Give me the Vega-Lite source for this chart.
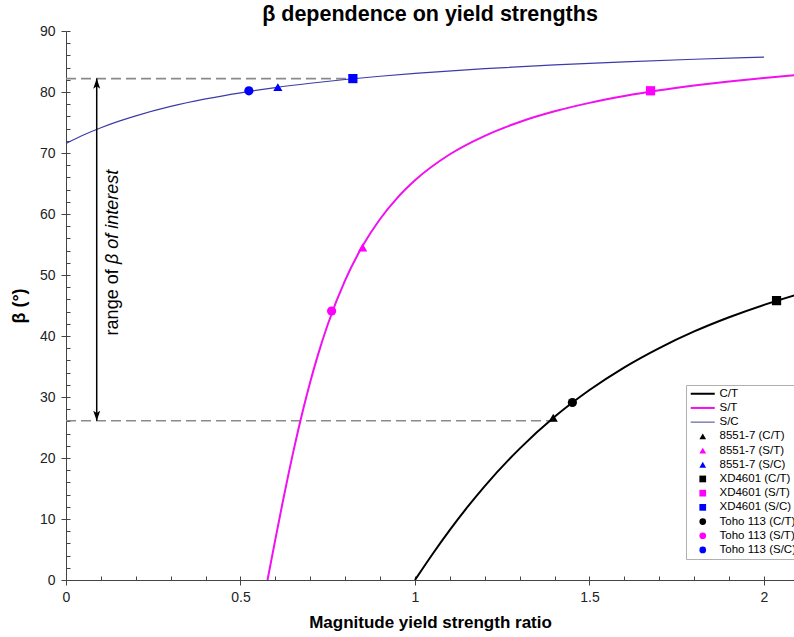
{
  "$schema": "https://vega.github.io/schema/vega-lite/v6.json",
  "autosize": "none",
  "width": 728,
  "height": 549,
  "padding": {"left": 66, "top": 31, "right": 0, "bottom": 57},
  "background": "white",
  "title": {"text": "β dependence on yield strengths", "fontSize": 21.5, "fontWeight": "bold", "font": "Liberation Sans", "color": "#000", "anchor": "middle", "offset": -1},
  "config": {
    "view": {"stroke": null},
    "axis": {"grid": false, "labelFont": "Liberation Sans", "titleFont": "Liberation Sans", "domainColor": "#444", "tickColor": "#444", "labelColor": "#222", "titleColor": "#000", "labelFontSize": 14},
    "legend": {"labelFont": "Liberation Sans"}
  },
  "datasets": {
    "sc": [
      {"x": 0, "y": 71.57}, {"x": 0.05, "y": 72.95}, {"x": 0.1, "y": 74.14}, {"x": 0.15, "y": 75.18}, {"x": 0.2, "y": 76.09}, {"x": 0.3, "y": 77.63}, {"x": 0.4, "y": 78.86}, {"x": 0.5, "y": 79.87}, {"x": 0.6, "y": 80.72}, {"x": 0.7, "y": 81.43}, {"x": 0.8, "y": 82.05}, {"x": 0.9, "y": 82.58}, {"x": 1.0, "y": 83.04}, {"x": 1.2, "y": 83.82}, {"x": 1.4, "y": 84.44}, {"x": 1.6, "y": 84.95}, {"x": 1.8, "y": 85.37}, {"x": 2.0, "y": 85.73}
    ],
    "st": [
      {"x": 0.5774, "y": 0}, {"x": 0.6, "y": 6.71}, {"x": 0.62, "y": 12.49}, {"x": 0.65, "y": 20.68}, {"x": 0.68, "y": 28.07}, {"x": 0.7, "y": 32.51}, {"x": 0.72, "y": 36.54}, {"x": 0.75, "y": 41.89}, {"x": 0.8, "y": 49.16}, {"x": 0.85, "y": 54.78}, {"x": 0.9, "y": 59.18}, {"x": 0.95, "y": 62.69}, {"x": 1.0, "y": 65.52}, {"x": 1.1, "y": 69.79}, {"x": 1.2, "y": 72.82}, {"x": 1.3, "y": 75.09}, {"x": 1.4, "y": 76.83}, {"x": 1.5, "y": 78.22}, {"x": 1.6, "y": 79.34}, {"x": 1.7, "y": 80.27}, {"x": 1.8, "y": 81.05}, {"x": 1.9, "y": 81.72}, {"x": 2.0, "y": 82.3}, {"x": 2.09, "y": 82.75}
    ],
    "ct": [
      {"x": 1, "y": 0}, {"x": 1.05, "y": 4.23}, {"x": 1.1, "y": 8.22}, {"x": 1.15, "y": 11.94}, {"x": 1.2, "y": 15.4}, {"x": 1.3, "y": 21.54}, {"x": 1.4, "y": 26.75}, {"x": 1.5, "y": 31.14}, {"x": 1.6, "y": 34.87}, {"x": 1.7, "y": 38.03}, {"x": 1.8, "y": 40.75}, {"x": 1.9, "y": 43.08}, {"x": 2.0, "y": 45.11}, {"x": 2.09, "y": 46.72}
    ],
    "dash": [
      {"g": "top", "x": 0, "y": 82.2}, {"g": "top", "x": 0.822, "y": 82.2},
      {"g": "bot", "x": 0, "y": 26.1}, {"g": "bot", "x": 1.396, "y": 26.1}
    ],
    "pts": [
      {"label": "8551-7 (C/T)", "x": 1.396, "y": 26.6},
      {"label": "8551-7 (S/T)", "x": 0.85, "y": 54.5},
      {"label": "8551-7 (S/C)", "x": 0.607, "y": 80.8},
      {"label": "XD4601 (C/T)", "x": 2.036, "y": 45.8},
      {"label": "XD4601 (S/T)", "x": 1.675, "y": 80.2},
      {"label": "XD4601 (S/C)", "x": 0.822, "y": 82.2},
      {"label": "Toho 113 (C/T)", "x": 1.451, "y": 29.1},
      {"label": "Toho 113 (S/T)", "x": 0.761, "y": 44.1},
      {"label": "Toho 113 (S/C)", "x": 0.524, "y": 80.2}
    ],
    "arrow": [{"x": 0.088, "y": 26.1, "y2": 82.2}]
  },
  "resolve": {"axis": {"x": "independent", "y": "independent"}},
  "layer": [
    {
      "data": {"name": "dash"},
      "mark": {"type": "line", "color": "#8a8a8a", "strokeWidth": 1.6, "strokeDash": [10, 5]},
      "encoding": {
        "x": {"field": "x", "type": "quantitative", "scale": {"domain": [0, 2.086], "nice": false, "zero": false},
              "axis": {"orient": "bottom", "values": [0, 0.5, 1, 1.5, 2], "format": "~g", "tickSize": 5, "labelPadding": 5, "title": "Magnitude yield strength ratio", "titleFontSize": 17, "titleFontWeight": "bold", "titlePadding": 10, "labelFlush": false}},
        "y": {"field": "y", "type": "quantitative", "scale": {"domain": [0, 90], "nice": false},
              "axis": {"orient": "left", "values": [0, 10, 20, 30, 40, 50, 60, 70, 80, 90], "tickSize": 5, "labelPadding": 6, "title": "β (°)", "titleFontSize": 18, "titleFontWeight": "bold", "titlePadding": 11}},
        "detail": {"field": "g"}
      }
    },
    {
      "data": {"name": "sc"},
      "mark": {"type": "line", "color": "#3c3ca8", "strokeWidth": 1.2, "interpolate": "monotone"},
      "encoding": {
        "x": {"field": "x", "type": "quantitative", "axis": {"orient": "bottom", "values": [0, 0.1, 0.2, 0.3, 0.4, 0.5, 0.6, 0.7, 0.8, 0.9, 1, 1.1, 1.2, 1.3, 1.4, 1.5, 1.6, 1.7, 1.8, 1.9, 2.0], "tickSize": -4, "labels": false, "domain": false, "title": null}},
        "y": {"field": "y", "type": "quantitative", "axis": {"orient": "left", "values": [0, 2, 4, 6, 8, 10, 12, 14, 16, 18, 20, 22, 24, 26, 28, 30, 32, 34, 36, 38, 40, 42, 44, 46, 48, 50, 52, 54, 56, 58, 60, 62, 64, 66, 68, 70, 72, 74, 76, 78, 80, 82, 84, 86, 88, 90], "tickSize": -4, "labels": false, "domain": false, "title": null}}
      }
    },
    {
      "data": {"name": "st"},
      "mark": {"type": "line", "color": "#f010f0", "strokeWidth": 2, "interpolate": "monotone", "clip": true},
      "encoding": {
        "x": {"field": "x", "type": "quantitative", "axis": null},
        "y": {"field": "y", "type": "quantitative", "axis": null}
      }
    },
    {
      "data": {"name": "ct"},
      "mark": {"type": "line", "color": "#000000", "strokeWidth": 2, "interpolate": "monotone", "clip": true},
      "encoding": {
        "x": {"field": "x", "type": "quantitative", "axis": null},
        "y": {"field": "y", "type": "quantitative", "axis": null}
      }
    },
    {
      "data": {"name": "arrow"},
      "mark": {"type": "rule", "color": "#000", "strokeWidth": 1.5},
      "encoding": {
        "x": {"field": "x", "type": "quantitative", "axis": null},
        "y": {"field": "y", "type": "quantitative", "axis": null},
        "y2": {"field": "y2"}
      }
    },
    {
      "data": {"name": "arrow"},
      "mark": {"type": "point", "shape": "M0,0L-0.5,1.45L0,1.1L0.5,1.45Z", "filled": true, "color": "#000", "size": 196, "opacity": 1},
      "encoding": {
        "x": {"field": "x", "type": "quantitative", "axis": null},
        "y": {"field": "y2", "type": "quantitative", "axis": null}
      }
    },
    {
      "data": {"name": "arrow"},
      "mark": {"type": "point", "shape": "M0,0L-0.5,-1.45L0,-1.1L0.5,-1.45Z", "filled": true, "color": "#000", "size": 196, "opacity": 1},
      "encoding": {
        "x": {"field": "x", "type": "quantitative", "axis": null},
        "y": {"field": "y", "type": "quantitative", "axis": null}
      }
    },
    {
      "data": {"values": [{"x": 0.135, "y": 40.1, "t": "range of "}]},
      "mark": {"type": "text", "angle": 270, "align": "left", "baseline": "middle", "font": "Liberation Sans", "fontSize": 18, "color": "#000"},
      "encoding": {
        "x": {"field": "x", "type": "quantitative", "axis": null},
        "y": {"field": "y", "type": "quantitative", "axis": null},
        "text": {"field": "t"}
      }
    },
    {
      "data": {"values": [{"x": 0.135, "y": 51.8, "t": "β of interest"}]},
      "mark": {"type": "text", "angle": 270, "align": "left", "baseline": "middle", "font": "Liberation Sans", "fontSize": 18, "fontStyle": "italic", "color": "#000"},
      "encoding": {
        "x": {"field": "x", "type": "quantitative", "axis": null},
        "y": {"field": "y", "type": "quantitative", "axis": null},
        "text": {"field": "t"}
      }
    },
    {
      "data": {"name": "pts"},
      "mark": {"type": "point", "filled": true, "size": 85, "opacity": 1},
      "encoding": {
        "x": {"field": "x", "type": "quantitative", "axis": null},
        "y": {"field": "y", "type": "quantitative", "axis": null},
        "color": {"field": "label", "type": "nominal",
          "scale": {"domain": ["C/T", "S/T", "S/C", "8551-7 (C/T)", "8551-7 (S/T)", "8551-7 (S/C)", "XD4601 (C/T)", "XD4601 (S/T)", "XD4601 (S/C)", "Toho 113 (C/T)", "Toho 113 (S/T)", "Toho 113 (S/C)"],
                    "range": ["#000000", "#f010f0", "#6a6aa8", "#000000", "#ff00ff", "#0000ff", "#000000", "#ff00ff", "#0000ff", "#000000", "#ff00ff", "#0000ff"]},
          "legend": {"orient": "none", "legendX": 620, "legendY": 354, "title": null, "padding": 3, "strokeColor": "#b0b0b0", "fillColor": "white", "labelFontSize": 11.5, "labelColor": "#000", "symbolSize": 45, "rowPadding": 1.2, "labelOffset": 11, "symbolOffset": 8, "symbolStrokeWidth": 0, "labelLimit": 0}},
        "shape": {"field": "label", "type": "nominal",
          "scale": {"domain": ["C/T", "S/T", "S/C", "8551-7 (C/T)", "8551-7 (S/T)", "8551-7 (S/C)", "XD4601 (C/T)", "XD4601 (S/T)", "XD4601 (S/C)", "Toho 113 (C/T)", "Toho 113 (S/T)", "Toho 113 (S/C)"],
                    "range": ["M-3.58,-0.3H3.58V0.3H-3.58Z", "M-3.58,-0.3H3.58V0.3H-3.58Z", "M-3.58,-0.19H3.58V0.19H-3.58Z", "triangle-up", "triangle-up", "triangle-up", "square", "square", "square", "circle", "circle", "circle"]},
          "legend": {"orient": "none", "legendX": 620, "legendY": 354, "title": null}}
      }
    }
  ]
}
